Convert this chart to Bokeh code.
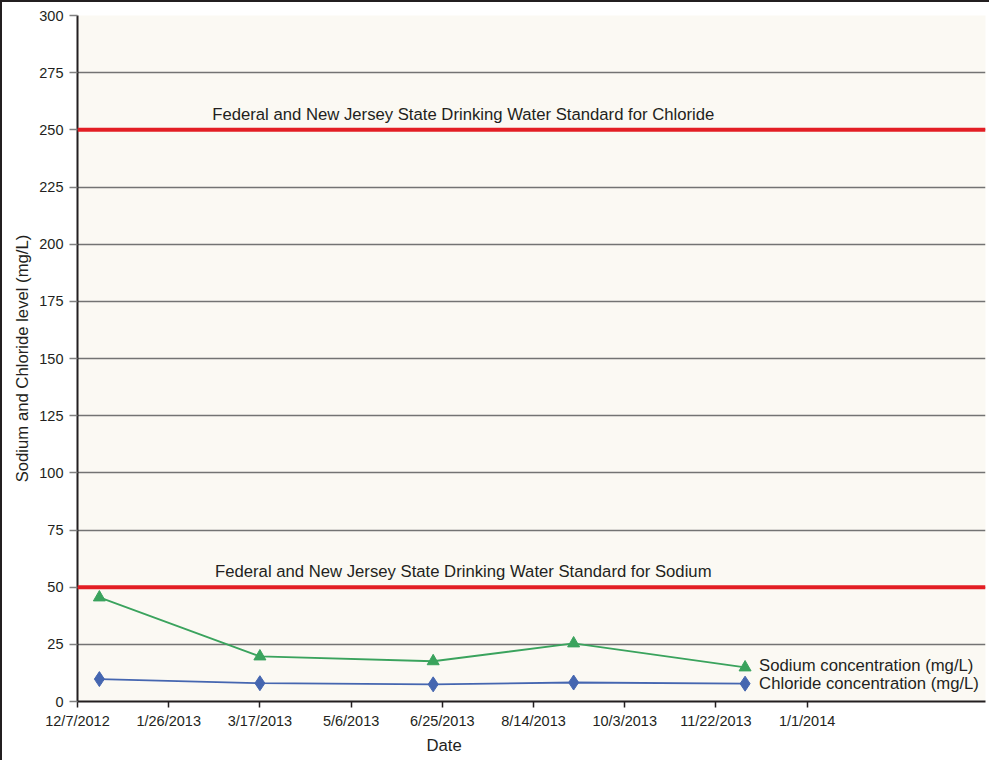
import pandas as pd
from bokeh.plotting import figure
from bokeh.models import FixedTicker, Span, Label, ColumnDataSource, Range1d, Title
from bokeh.embed import file_html
from bokeh.resources import INLINE
from bokeh.core.properties import value

# ---- data ----
start_date = "12/7/2012"
sample_dates = ["12/19/2012", "3/17/2013", "6/20/2013", "9/5/2013", "12/8/2013"]
sodium = [45.5, 19.7, 17.6, 25.4, 14.9]
chloride = [9.8, 8.0, 7.5, 8.3, 7.8]
tick_days = [0, 50, 100, 150, 200, 250, 300, 350, 400]
tick_labels = ["12/7/2012", "1/26/2013", "3/17/2013", "5/6/2013", "6/25/2013",
               "8/14/2013", "10/3/2013", "11/22/2013", "1/1/2014"]
y_ticks = list(range(0, 301, 25))
sodium_standard = 50
chloride_standard = 250
sodium_name = "Sodium concentration (mg/L)"
chloride_name = "Chloride concentration (mg/L)"
x_title = "Date"
y_title = "Sodium and Chloride level (mg/L)"

t0 = pd.to_datetime(start_date, format="%m/%d/%Y")
days = [(pd.to_datetime(d, format="%m/%d/%Y") - t0).days for d in sample_dates]

FONT = "Liberation Sans"
TXT = "#231f20"
BIG = "16.7px"

p = figure(width=989, height=760, output_backend="svg", toolbar_location=None,
           x_range=Range1d(0, 497.8), y_range=Range1d(0, 300),
           min_border_left=75, min_border_right=6, min_border_top=13, min_border_bottom=61)
p.styles = {"border-left": "2px solid #231f20", "border-top": "2px solid #231f20",
            "box-sizing": "border-box"}
p.background_fill_color = "#fbf9f3"
p.border_fill_color = "white"
p.outline_line_color = None

# axes
p.xaxis.ticker = FixedTicker(ticks=tick_days)
p.xaxis.major_label_overrides = {d: l for d, l in zip(tick_days, tick_labels)}
p.yaxis.ticker = FixedTicker(ticks=y_ticks)
for ax in (p.xaxis, p.yaxis):
    ax.axis_line_color = "#231f20"
    ax.axis_line_width = 2
    ax.major_tick_line_color = "#231f20"
    ax.major_tick_line_width = 1.5
    ax.minor_tick_line_color = None
    ax.major_label_text_font = FONT
    ax.major_label_text_font_size = "14.5px"
    ax.major_label_text_color = TXT
    ax.axis_label_text_font = FONT
    ax.axis_label_text_font_size = BIG
    ax.axis_label_text_font_style = "normal"
    ax.axis_label_text_color = TXT
p.yaxis.major_tick_out = 8
p.yaxis.major_tick_in = 0
p.yaxis.major_tick_line_color = "#808080"
p.yaxis.major_label_standoff = 6
p.xaxis.major_tick_out = 6
p.xaxis.major_tick_in = 0
p.yaxis.axis_label = y_title
p.yaxis.axis_label_standoff = 4

# x-axis title, left of the frame centre as in the original
p.add_layout(Title(text=x_title, align="left", offset=349, standoff=4,
                   text_font=FONT, text_font_size=BIG, text_font_style="normal",
                   text_color=TXT), "below")

p.xgrid.grid_line_color = None
p.ygrid.grid_line_color = "#737373"
p.ygrid.grid_line_width = 1.5

# standards
for val, name in ((chloride_standard, "Chloride"), (sodium_standard, "Sodium")):
    p.add_layout(Span(location=val, dimension="width", line_color="#e31e24", line_width=4))
    p.add_layout(Label(x=211.5, y=val, y_offset=6, text_align="center", text_baseline="bottom",
                       text=f"Federal and New Jersey State Drinking Water Standard for {name}",
                       text_font=FONT, text_font_size=BIG, text_color=TXT))

src = ColumnDataSource(dict(x=days, na=sodium, cl=chloride))
p.line("x", "cl", source=src, line_color="#4566b0", line_width=1.8)
p.scatter("x", "cl", source=src, marker="diamond", size=15, fill_color="#4566b0", line_color="#4566b0")
p.line("x", "na", source=src, line_color="#3aa35d", line_width=1.8)
p.scatter("x", "na", source=src, marker="triangle", size=12, fill_color="#3aa35d", line_color="#3aa35d")

p.text(x=[days[-1]], y=[sodium[-1]], text=[sodium_name], x_offset=14, y_offset=-2,
       text_baseline="middle", text_font=value(FONT), text_font_size=BIG, text_color=TXT)
p.text(x=[days[-1]], y=[chloride[-1]], text=[chloride_name], x_offset=14, y_offset=0,
       text_baseline="middle", text_font=value(FONT), text_font_size=BIG, text_color=TXT)

open("out.html", "w").write(file_html(p, INLINE))
